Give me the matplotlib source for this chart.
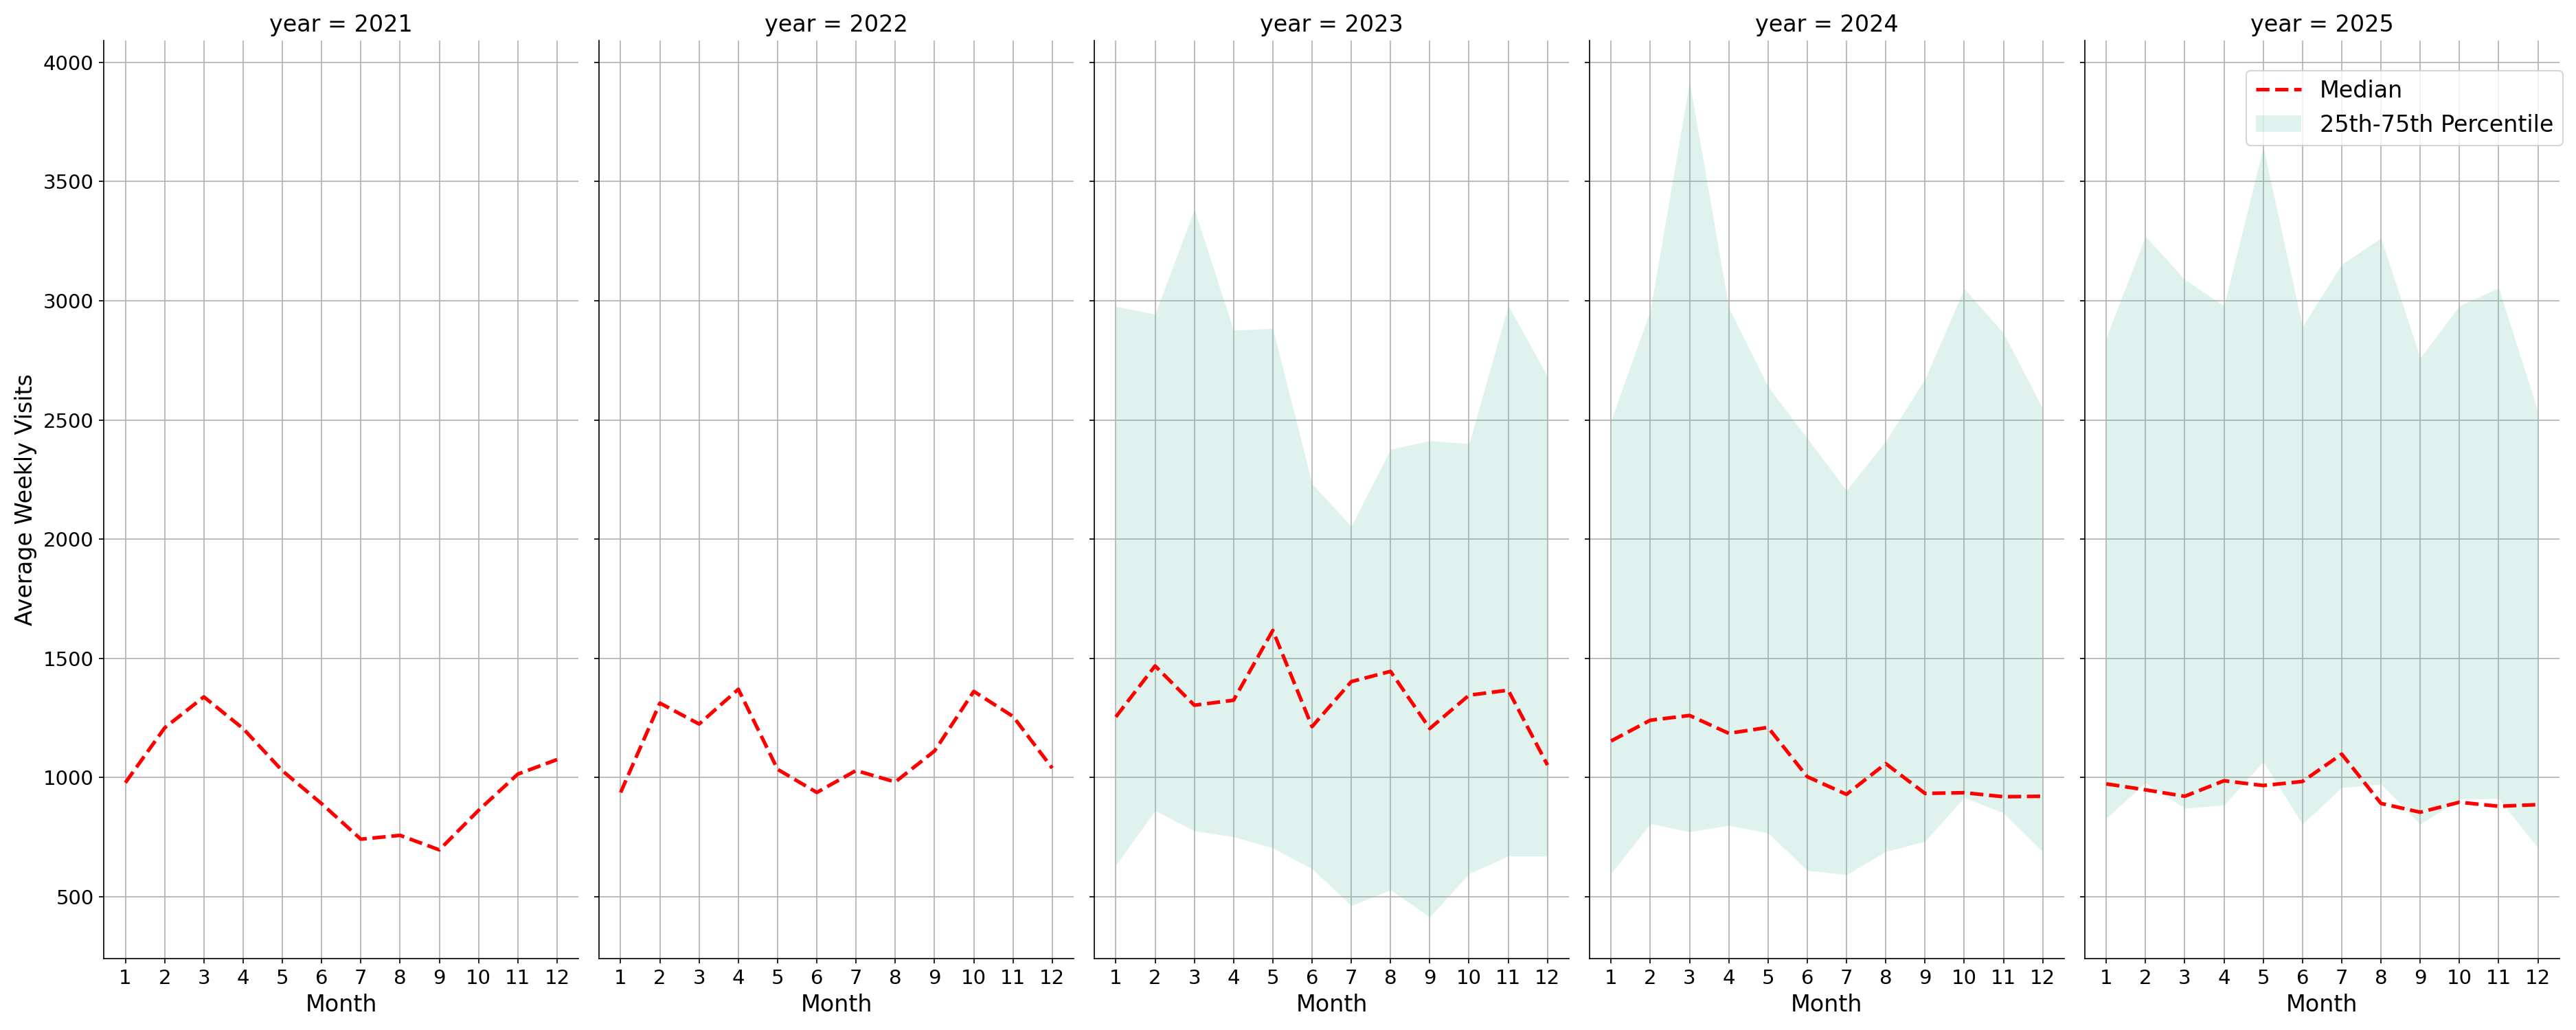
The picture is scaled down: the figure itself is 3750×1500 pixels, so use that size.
import numpy as np
import matplotlib
matplotlib.use("Agg")
import matplotlib.pyplot as plt

MONTHS = list(range(1, 13))
YEARS = [2021, 2022, 2023, 2024, 2025]

# median of average weekly visits per month
MEDIAN = {
    2021: [978, 1208, 1338, 1205, 1028, 890, 741, 757, 696, 862, 1014, 1075],
    2022: [937, 1312, 1224, 1370, 1034, 937, 1029, 981, 1111, 1361, 1256, 1039],
    2023: [1254, 1468, 1303, 1324, 1617, 1213, 1402, 1445, 1205, 1345, 1366, 1052],
    2024: [1153, 1240, 1260, 1185, 1210, 1003, 929, 1058, 933, 936, 919, 921],
    2025: [973, 948, 921, 986, 966, 983, 1098, 891, 854, 896, 879, 886],
}

# 25th / 75th percentile band (no band for 2021-2022)
P25 = {
    2023: [632, 861, 776, 751, 704, 617, 462, 528, 415, 596, 670, 670],
    2024: [597, 806, 772, 799, 767, 610, 592, 689, 732, 916, 851, 687],
    2025: [829, 978, 871, 884, 1066, 804, 958, 971, 804, 909, 911, 704],
}
P75 = {
    2023: [2976, 2944, 3383, 2876, 2884, 2232, 2054, 2377, 2413, 2400, 2980, 2683],
    2024: [2498, 2959, 3918, 2971, 2640, 2423, 2204, 2411, 2672, 3051, 2864, 2548],
    2025: [2847, 3270, 3089, 2979, 3644, 2892, 3153, 3263, 2760, 2979, 3054, 2535],
}

BAND_COLOR = "#66c2a5"


def main():
    fig, axes = plt.subplots(1, 5, figsize=(25, 10), sharey=True)
    fig.subplots_adjust(left=0.0403, right=0.9936, bottom=0.0693, top=0.961, wspace=0.043)

    for ax, year in zip(axes, YEARS):
        ax.grid(True, color="#b0b0b0", linewidth=0.8)
        ax.set_axisbelow(True)
        ax.plot(MONTHS, MEDIAN[year], color="red", linestyle="--", linewidth=2.5, label="Median")
        if year in P25:
            ax.fill_between(MONTHS, P25[year], P75[year], color=BAND_COLOR, alpha=0.2,
                            linewidth=0, label="25th-75th Percentile")
        ax.set_title(f"year = {year}", fontsize=16)
        ax.set_xlabel("Month", fontsize=16)
        ax.set_xticks(MONTHS)
        ax.tick_params(labelsize=14)
        ax.spines["top"].set_visible(False)
        ax.spines["right"].set_visible(False)

    axes[0].set_ylabel("Average Weekly Visits", fontsize=16)
    axes[-1].legend(loc="upper right", bbox_to_anchor=(1.007, 0.967), borderaxespad=0,
                    fontsize=16)

    fig.savefig("out.png", dpi=150)


if __name__ == "__main__":
    main()
